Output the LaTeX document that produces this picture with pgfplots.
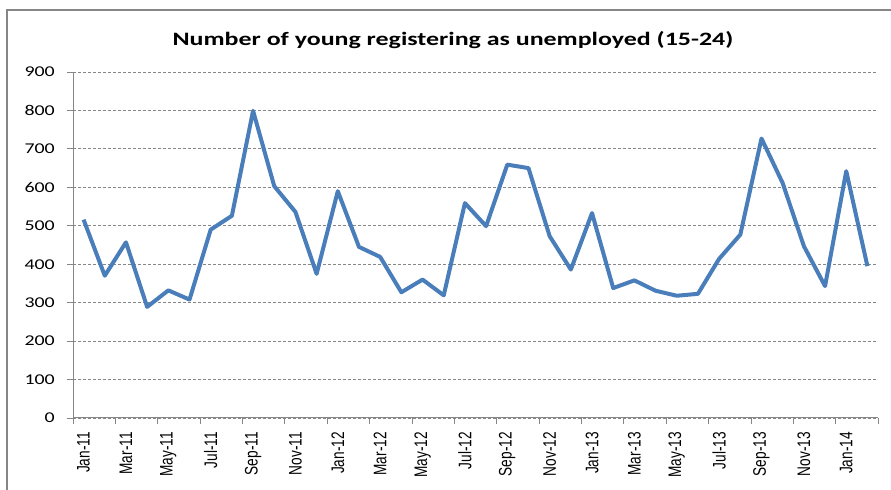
\documentclass[border=0pt]{standalone}
\usepackage{fontspec}
\usepackage{graphicx}
\usepackage{pgfplots}
\pgfplotsset{compat=1.18}
\setmainfont{Liberation Sans}
\newfontfamily\carlito{Carlito}
\definecolor{serblue}{RGB}{74,126,187}
\definecolor{axgray}{RGB}{134,134,134}
\newcommand{\xl}[1]{\scalebox{1}[1.33]{#1}}
\begin{document}
\begin{tikzpicture}[x=1bp,y=1bp]
\useasboundingbox (0,0) rectangle (891,490);
\begin{axis}[
  at={(73bp,72bp)}, anchor=south west,
  scale only axis, width=805bp, height=346bp,
  xmin=-0.5, xmax=37.5, ymin=0, ymax=900,
  axis lines*=left,
  axis line style={axgray, line width=1bp},
  tick align=outside,
  major tick length=6bp,
  tick style={axgray, line width=0.8bp},
  xtick={-0.5,1.5,...,37.5},
  xticklabels={},
  extra x ticks={0,2,...,36},
  extra x tick style={major tick length=0pt, grid=none},
  extra x tick labels={\xl{Jan-11},\xl{Mar-11},\xl{May-11},\xl{Jul-11},\xl{Sep-11},\xl{Nov-11},\xl{Jan-12},\xl{Mar-12},\xl{May-12},\xl{Jul-12},\xl{Sep-12},\xl{Nov-12},\xl{Jan-13},\xl{Mar-13},\xl{May-13},\xl{Jul-13},\xl{Sep-13},\xl{Nov-13},\xl{Jan-14}},
  xticklabel style={font=\fontsize{13.7}{15}\selectfont, rotate=90, anchor=east, inner sep=0pt, xshift=-14bp},
  ytick={0,100,...,900},
  yticklabel={\scalebox{1.33}[1]{\carlito\fontsize{15}{17}\selectfont\pgfmathprintnumber[assume math mode=true]{\tick}}},
  yticklabel style={anchor=east, inner sep=0pt, xshift=-12bp},
  ymajorgrids,
  grid style={axgray, line width=0.8bp, dash pattern=on 3bp off 2bp},
  clip=false,
]
\addplot[serblue, line width=4bp, line join=round] coordinates {
(0,516) (1,370) (2,457) (3,289) (4,332) (5,308) (6,490) (7,526) (8,799) (9,603) (10,536) (11,375)
(12,590) (13,445) (14,419) (15,327) (16,360) (17,319) (18,559) (19,499) (20,659) (21,650) (22,473) (23,386)
(24,533) (25,338) (26,358) (27,331) (28,318) (29,323) (30,414) (31,477) (32,727) (33,611) (34,447) (35,343)
(36,642) (37,395)
};
\end{axis}
\draw[axgray, line width=1.2bp] (7,0) -- (7,480) -- (891,480);
\node[anchor=base, inner sep=0pt] at (453,444) {\scalebox{1.37}[1]{\carlito\bfseries\fontsize{19}{21}\selectfont Number of young registering as unemployed (15-24)}};
\end{tikzpicture}
\end{document}
